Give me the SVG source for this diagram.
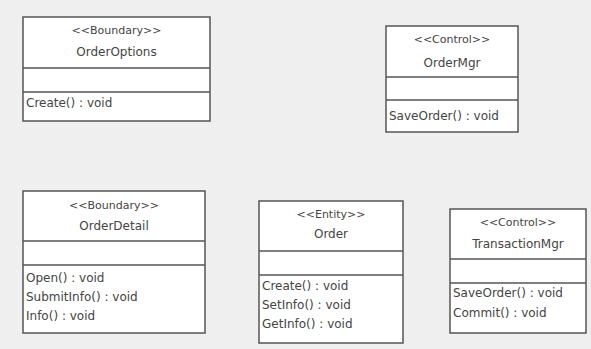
<svg xmlns="http://www.w3.org/2000/svg" width="591" height="349" viewBox="0 0 591 349">
<style>
.box{fill:#ffffff;stroke:#555555;stroke-width:1.5}
.div{stroke:#555555;stroke-width:1.3}
text{font-family:"DejaVu Sans","Liberation Sans",sans-serif;font-size:12px;fill:#444444}
.c{text-anchor:middle}
.st{font-size:11px}
</style>
<rect x="0" y="0" width="591" height="349" fill="#efefef"/>
<g id="connectors"/>
<g id="OrderOptions">
<rect class="box" x="23" y="17" width="187" height="104"/>
<line class="div" x1="23" y1="68" x2="210" y2="68"/>
<line class="div" x1="23" y1="92" x2="210" y2="92"/>
<text class="c st" x="116.5" y="34">&lt;&lt;Boundary&gt;&gt;</text>
<text class="c" x="116.5" y="56">OrderOptions</text>
<text x="26" y="107">Create() : void</text>
</g>
<g id="OrderMgr">
<rect class="box" x="386" y="26" width="132" height="106"/>
<line class="div" x1="386" y1="77" x2="518" y2="77"/>
<line class="div" x1="386" y1="100" x2="518" y2="100"/>
<text class="c st" x="452" y="43">&lt;&lt;Control&gt;&gt;</text>
<text class="c" x="452" y="67">OrderMgr</text>
<text x="389" y="120">SaveOrder() : void</text>
</g>
<g id="OrderDetail">
<rect class="box" x="23" y="191" width="182" height="142"/>
<line class="div" x1="23" y1="241" x2="205" y2="241"/>
<line class="div" x1="23" y1="265" x2="205" y2="265"/>
<text class="c st" x="114" y="209">&lt;&lt;Boundary&gt;&gt;</text>
<text class="c" x="114" y="230">OrderDetail</text>
<text x="26" y="282">Open() : void</text>
<text x="26" y="301">SubmitInfo() : void</text>
<text x="26" y="320">Info() : void</text>
</g>
<g id="Order">
<rect class="box" x="259" y="201" width="144" height="142"/>
<line class="div" x1="259" y1="251" x2="403" y2="251"/>
<line class="div" x1="259" y1="275" x2="403" y2="275"/>
<text class="c st" x="331" y="218">&lt;&lt;Entity&gt;&gt;</text>
<text class="c" x="331" y="238">Order</text>
<text x="262" y="290">Create() : void</text>
<text x="262" y="309">SetInfo() : void</text>
<text x="262" y="328">GetInfo() : void</text>
</g>
<g id="TransactionMgr">
<rect class="box" x="450" y="209" width="136" height="124"/>
<line class="div" x1="450" y1="259" x2="586" y2="259"/>
<line class="div" x1="450" y1="283" x2="586" y2="283"/>
<text class="c st" x="518" y="226">&lt;&lt;Control&gt;&gt;</text>
<text class="c" x="518" y="248">TransactionMgr</text>
<text x="453" y="297">SaveOrder() : void</text>
<text x="453" y="317">Commit() : void</text>
</g>
</svg>
